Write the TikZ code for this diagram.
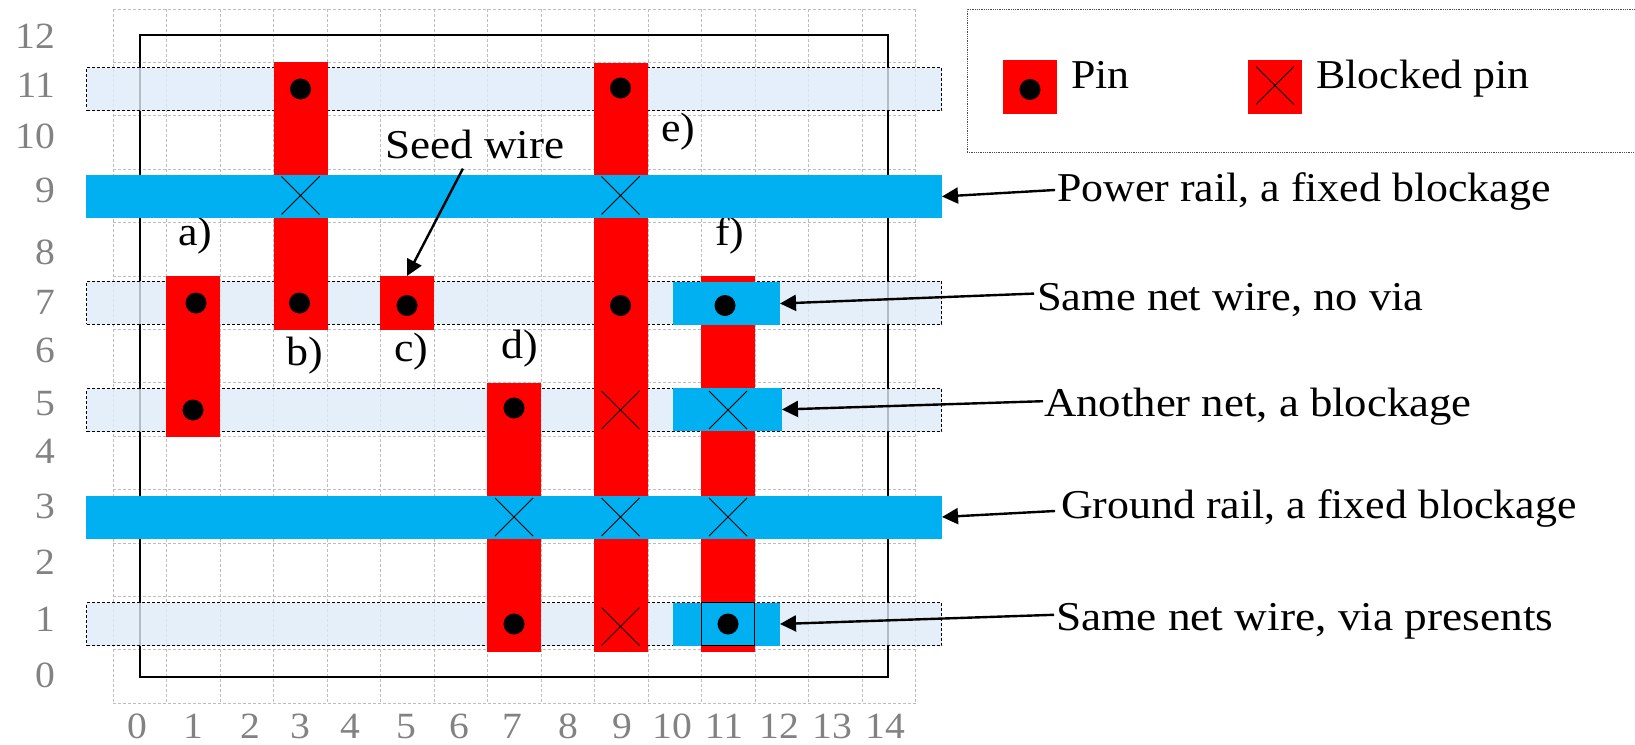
\documentclass[tikz,border=0pt]{standalone}
\usepackage{fontspec}
\setmainfont[FakeStretch=1.07]{Liberation Serif}
\usetikzlibrary{positioning}
\usetikzlibrary{calc}
\usetikzlibrary{arrows.meta}
\usetikzlibrary{shapes.misc}
\definecolor{railblue}{HTML}{00B0F0}
\definecolor{trackblue}{HTML}{DEEBF7}
\definecolor{axisgray}{HTML}{828282}
\definecolor{gridgray}{HTML}{BDBDBD}

\begin{document}
\begin{tikzpicture}[x=1pt,y=-1pt,
	gridline/.style={draw=gridgray,line width=1pt,densely dashed},
	tracknode/.style={rectangle,draw=black,densely dashed,line width=.8pt,fill=trackblue,fill opacity=.8,inner sep=0pt,outer sep=0pt,minimum width=855pt,minimum height=43pt},
	pinnode/.style={rectangle,fill=red,inner sep=0pt,outer sep=0pt,minimum width=54pt},
	railnode/.style={rectangle,fill=railblue,inner sep=0pt,outer sep=0pt,minimum height=43pt},
	dotnode/.style={circle,fill=black,inner sep=0pt,outer sep=0pt,minimum size=21pt},
	crossnode/.style={cross out,draw=black,line width=1pt,inner sep=0pt,outer sep=0pt,minimum size=38pt},
	axislabel/.style={text=axisgray,inner sep=0pt,font=\fontsize{37}{40}\selectfont},
	tag/.style={inner sep=0pt,anchor=base west,font=\fontsize{41}{44}\selectfont},
	pointer/.style={line width=2.4pt,-{Triangle[length=16pt,width=16pt]}}]
	\useasboundingbox (0,0) rectangle (1635,744);
	\foreach \i in {0,...,15}
		\draw[gridline] (113+53.5*\i,9) -- (113+53.5*\i,703);
	\foreach \j in {0,...,13}
		\draw[gridline] (113,9+53.4*\j) -- (915.5,9+53.4*\j);
	\draw[line width=1.8pt] (140,35) rectangle (888,677);
	\foreach \n/\py in {t11/89,t7/302.5,t5/410,t1/624}
		\node[tracknode] (\n) at (514,\py) {};
	\node[pinnode,minimum height=161pt] (pina) at (193,356.5) {};
	\node[pinnode,minimum height=268pt] (pinb) at (301,196) {};
	\node[pinnode,minimum height=54pt] (pinc) at (407,303) {};
	\node[pinnode,minimum height=269pt] (pind) at (514,517) {};
	\node[pinnode,minimum height=589pt] (pine) at (621,357) {};
	\node[pinnode,minimum height=376pt] (pinf) at (728,463.5) {};
	\foreach \n/\lbl/\px/\py in {laba/a)/178/245,labb/b)/286/365,labc/c)/394/361,labd/d)/501/358,labe/e)/661/141,labf/f)/715/245}
		\node[tag] (\n) at (\px,\py) {\lbl};
	\node[railnode,minimum width=856pt] (powerrail) at (514,196.5) {};
	\node[railnode,minimum width=856pt] (groundrail) at (514,517) {};
	\node[railnode,minimum width=107pt] (wirea) at (726.5,303.5) {};
	\node[railnode,minimum width=109pt] (wireb) at (727.5,409.5) {};
	\node[railnode,minimum width=107pt] (wirec) at (726.5,624) {};
	\node[rectangle,draw=black,line width=1.4pt,inner sep=0pt,minimum width=53pt,minimum height=43pt] (viabox) at (728,624) {};
	\foreach \n/\px/\py in {d1/300.5/89,d2/299.5/303,d3/196/303,d4/407/305.5,d5/193/410,d6/620.5/88,d7/620.5/305.5,d8/514/408,d9/514/624,d10/725/305.5,d11/728/624,d12/1030/89.5}
		\node[dotnode] (\n) at (\px,\py) {};
	\foreach \n/\px/\py in {x1/300.5/195.5,x2/620.5/195.5,x3/620.5/410,x4/728/410,x5/514/517,x6/620.5/517,x7/728/517,x8/620.5/626.5}
		\node[crossnode] (\n) at (\px,\py) {};
	\foreach \n/\px in {0/137,1/193,2/250,3/300,4/350,5/406,6/459,7/512,8/568,9/622,10/672,11/724,12/779,13/832,14/885}
		\node[axislabel,anchor=base] (xlab\n) at (\px,738) {\n};
	\foreach \n/\bl in {0/687,1/631,2/574,3/518,4/463,5/415,6/362,7/314,8/264,9/202,10/148,11/97,12/48}
		\node[axislabel,anchor=base east] (ylab\n) at (55,\bl) {\n};
	\node[rectangle,draw=black!70,densely dotted,line width=.8pt,inner sep=0pt,minimum width=680pt,minimum height=143pt] (legendbox) at (1307,80.5) {};
	\node[pinnode,minimum height=54pt] (legpin) at (1030,87) {};
	\node[dotnode] (legdot) at (1030,89.5) {};
	\node[pinnode,minimum height=54pt] (legblocked) at (1275,87) {};
	\node[crossnode] (legcross) at (1275,85.5) {};
	\node[tag] (pinlbl) at (1071,88) {Pin};
	\node[tag] (blockedlbl) at (1316,88) {Blocked pin};
	\node[tag,xscale=1.03] (seedlbl) at (385,158) {Seed wire};
	\node[tag] (powerlbl) at (1057,201) {Power rail, a fixed blockage};
	\node[tag,xscale=1.013] (samelbl) at (1037,310) {Same net wire, no via};
	\node[tag,xscale=1.02] (anotherlbl) at (1044,416) {Another net, a blockage};
	\node[tag] (groundlbl) at (1061,518) {Ground rail, a fixed blockage};
	\node[tag,xscale=1.033] (vialbl) at (1056,630) {Same net wire, via presents};
	\draw[pointer] ($(seedlbl.south)+(-12,10)$) -- (pinc.north);
	\draw[pointer] ($(powerlbl.west)+(-2,-1)$) -- (powerrail.east);
	\draw[pointer] ($(samelbl.west)+(-3,-6)$) -- (wirea.east);
	\draw[pointer] ($(anotherlbl.west)+(-1,-5)$) -- (wireb.east);
	\draw[pointer] ($(groundlbl.west)+(-6,3)$) -- (groundrail.east);
	\draw[pointer] ($(vialbl.west)+(-2,-6)$) -- (wirec.east);
\end{tikzpicture}
\end{document}
